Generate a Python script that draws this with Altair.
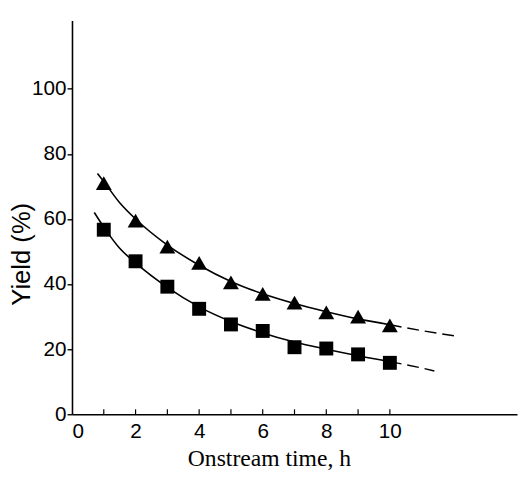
import altair as alt
import pandas as pd

# Measured points
time_h = [1, 2, 3, 4, 5, 6, 7, 8, 9, 10]
triangle_yield = [71, 59.5, 51.5, 46.5, 40.5, 37, 34.3, 31.3, 30, 27.3]
square_yield = [56.7, 47, 39.2, 32.4, 27.6, 25.6, 20.6, 20.2, 18.4, 15.8]

# Fitted curves
tri_curve_x = [0.8, 1, 1.5, 2, 3, 4, 5, 6, 7, 8, 9, 10]
tri_curve_y = [74, 71.5, 65, 60, 52, 45.8, 40.8, 37, 34, 31.5, 29.3, 27.5]
tri_dash_x = [10, 11, 12.1]
tri_dash_y = [27.5, 25.7, 24]
sq_curve_x = [0.7, 1, 1.5, 2, 3, 4, 5, 6, 7, 8, 9, 10]
sq_curve_y = [62, 57.5, 51, 46.5, 39, 33, 28.5, 25, 22.2, 20, 18, 16.2]
sq_dash_x = [10, 11, 11.4]
sq_dash_y = [16.2, 14.2, 13.3]

x_ticks = [1, 2, 3, 4, 5, 6, 7, 8, 9, 10]
x_labels = [0, 2, 4, 6, 8, 10]
y_labels = [0, 20, 40, 60, 80, 100]

tri_pts = pd.DataFrame({"t": time_h, "y": triangle_yield})
sq_pts = pd.DataFrame({"t": time_h, "y": square_yield})
solid = pd.DataFrame({
    "t": tri_curve_x + sq_curve_x,
    "y": tri_curve_y + sq_curve_y,
    "s": ["tri"] * len(tri_curve_x) + ["sq"] * len(sq_curve_x),
})
dashed = pd.DataFrame({
    "t": tri_dash_x + sq_dash_x,
    "y": tri_dash_y + sq_dash_y,
    "s": ["tri"] * len(tri_dash_x) + ["sq"] * len(sq_dash_x),
})
ticks = pd.DataFrame({"t": x_ticks})

LABEL_FONT = "Liberation Sans"

xs = alt.Scale(domain=[0, 14], nice=False, zero=False)
ys = alt.Scale(domain=[0, 121], nice=False, zero=False)

x_axis = alt.Axis(
    values=x_labels, tickSize=0, labelPadding=7, grid=False,
    title="Onstream time, h", titleFont="Liberation Serif", titleFontSize=24,
    titleFontWeight="normal", titleX=200, titleY=45, titleAlign="center",
    titleBaseline="middle", labelFont=LABEL_FONT, labelFontSize=21,
    labelColor="black", titleColor="black",
)
y_axis = alt.Axis(
    values=y_labels, tickSize=5, labelPadding=1, grid=False,
    title="Yield (%)", titleFont=LABEL_FONT, titleFontSize=26,
    titleFontWeight="normal", titleX=-51, titleY=237, titleAngle=270,
    titleAlign="center", titleBaseline="middle", labelFont=LABEL_FONT,
    labelFontSize=21, labelColor="black", titleColor="black",
)

base_x = alt.X("t:Q", scale=xs, axis=x_axis)
base_y = alt.Y("y:Q", scale=ys, axis=y_axis)

solid_lines = alt.Chart(solid).mark_line(
    color="black", strokeWidth=1.6, interpolate="monotone"
).encode(x=base_x, y=base_y, detail="s:N")

dashed_lines = alt.Chart(dashed).mark_line(
    color="black", strokeWidth=1.4, strokeDash=[12, 6], interpolate="monotone"
).encode(x=base_x, y=base_y, detail="s:N")

tri_marks = alt.Chart(tri_pts).mark_point(
    filled=True, color="black", opacity=1, size=260, shape="triangle-up"
).encode(x=base_x, y=base_y)

sq_marks = alt.Chart(sq_pts).mark_point(
    filled=True, color="black", opacity=1, size=200, shape="square"
).encode(x=base_x, y=base_y)

tick_marks = alt.Chart(ticks).mark_rule(color="black", strokeWidth=1.2).encode(
    x=alt.X("t:Q", scale=xs), y=alt.value(400), y2=alt.value(395)
)

chart = alt.layer(solid_lines, dashed_lines, tri_marks, sq_marks, tick_marks).properties(
    width=452, height=400,
    autosize=alt.AutoSizeParams(type="none"),
    padding={"left": 65, "top": 9, "right": 1, "bottom": 54},
    background="white",
).configure_view(stroke=None).configure_axis(
    domainColor="black", domainWidth=1.6, tickColor="black", tickWidth=1.4,
)

chart.save("out.html", embed_options={"renderer": "svg", "actions": False})
